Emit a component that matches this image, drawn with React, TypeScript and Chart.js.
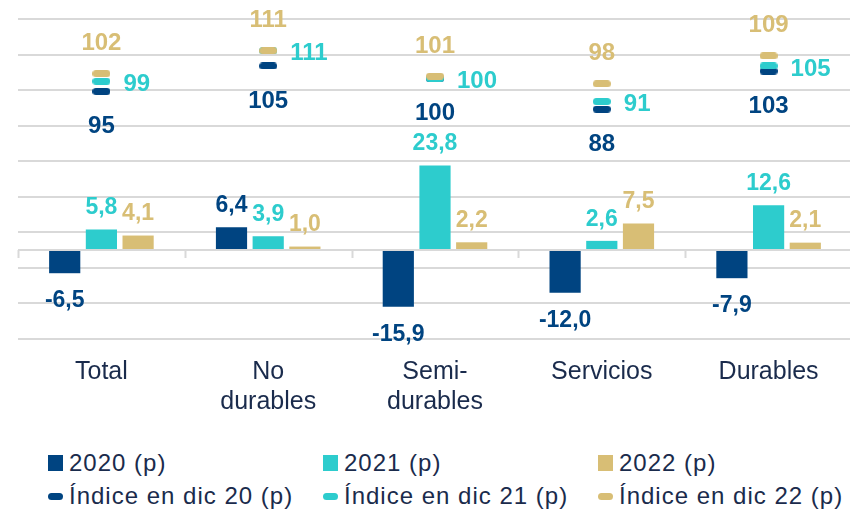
import React, { useEffect, useRef } from 'react';
import { Chart, registerables } from 'chart.js';

Chart.register(...registerables);

// ---- data ----
const categories: string[][] = [['Total'], ['No', 'durables'], ['Semi-', 'durables'], ['Servicios'], ['Durables']];
const var2020 = [-6.5, 6.4, -15.9, -12.0, -7.9];
const var2021 = [5.8, 3.9, 23.8, 2.6, 12.6];
const var2022 = [4.1, 1.0, 2.2, 7.5, 2.1];
const idx2020 = [95, 105, 100, 88, 103];
const idx2021 = [99, 111, 100, 91, 105];
const idx2022 = [102, 111, 101, 98, 109];
const barTicks = [-25, -15, -5, 5, 15, 25, 35, 45, 55, 65];
const barNames = ['2020 (p)', '2021 (p)', '2022 (p)'];
const indexNames = ['Índice en dic 20 (p)', 'Índice en dic 21 (p)', 'Índice en dic 22 (p)'];

// ---- styles ----
const NAVY = '#004481';
const TEAL = '#2DCCCD';
const GOLD = '#D8BE75';
const TEXT = '#1A2B4C';
const GRID = '#D9D9D9';
const FAMILY = "'Liberation Sans', Arial, sans-serif";

function makeMarker(color: string): HTMLCanvasElement {
  const c = document.createElement('canvas');
  c.width = 18;
  c.height = 7;
  const g = c.getContext('2d')!;
  g.fillStyle = color;
  g.beginPath();
  const r = 3.5;
  g.moveTo(r, 0);
  g.lineTo(18 - r, 0);
  g.arc(18 - r, r, r, -Math.PI / 2, Math.PI / 2);
  g.lineTo(r, 7);
  g.arc(r, r, r, Math.PI / 2, (3 * Math.PI) / 2);
  g.closePath();
  g.fill();
  return c;
}

function drawText(ctx: CanvasRenderingContext2D, text: string, x: number, cy: number, size: number, color: string, align: CanvasTextAlign) {
  ctx.save();
  ctx.font = `bold ${size}px ${FAMILY}`;
  ctx.fillStyle = color;
  ctx.textAlign = align;
  ctx.textBaseline = 'alphabetic';
  ctx.fillText(text, x, cy + size * 0.358);
  ctx.restore();
}

const labelPlugin = {
  id: 'valueLabels',
  afterDatasetsDraw(chart: any) {
    const ctx: CanvasRenderingContext2D = chart.ctx;
    const xs = chart.scales.x;
    const ys = chart.scales.y;
    // zero axis line with category tick marks
    const y0 = ys.getPixelForValue(0);
    ctx.save();
    ctx.strokeStyle = GRID;
    ctx.lineWidth = 2;
    ctx.beginPath();
    ctx.moveTo(xs.left, y0);
    ctx.lineTo(xs.right, y0);
    const n = chart.data.labels.length;
    const w = (xs.right - xs.left) / n;
    for (let k = 0; k <= n; k++) {
      const px = Math.round(xs.left + k * w) + 0.5;
      ctx.moveTo(px, y0);
      ctx.lineTo(px, y0 + 8);
    }
    ctx.stroke();
    ctx.restore();

    chart.data.datasets.forEach((ds: any, i: number) => {
      const meta = chart.getDatasetMeta(i);
      meta.data.forEach((el: any, j: number) => {
        const v = ds.data[j];
        if (ds.lbl === 'bar') {
          const t = v.toFixed(1).replace('.', ',');
          const cy = v >= 0 ? el.y - 23.5 : el.y + 26;
          drawText(ctx, t, el.x, cy, 23, ds.backgroundColor, 'center');
        } else if (ds.lbl === 'below') {
          drawText(ctx, String(v), el.x, el.y + 33, 24, ds.txtColor, 'center');
        } else if (ds.lbl === 'right') {
          drawText(ctx, String(v), el.x + 22, el.y + 1, 24, ds.txtColor, 'left');
        } else if (ds.lbl === 'above') {
          drawText(ctx, String(v), el.x, el.y - 32, 24, ds.txtColor, 'center');
        }
      });
    });
  },
};

export default function App() {
  const ref = useRef<HTMLCanvasElement | null>(null);

  useEffect(() => {
    if (!ref.current) return;
    const barCommon = { type: 'bar', yAxisID: 'y', categoryPercentage: 0.66, barPercentage: 0.85, borderWidth: 0, lbl: 'bar' };
    const pointCommon = { type: 'line', yAxisID: 'y1', showLine: false, pointRadius: 9, pointHoverRadius: 9 };
    const chart = new Chart(ref.current, {
      type: 'bar',
      data: {
        labels: categories as any,
        datasets: [
          { ...pointCommon, label: indexNames[2], data: idx2022, pointStyle: makeMarker(GOLD), order: 1, lbl: 'above', txtColor: GOLD },
          { ...pointCommon, label: indexNames[1], data: idx2021, pointStyle: makeMarker(TEAL), order: 2, lbl: 'right', txtColor: TEAL },
          { ...pointCommon, label: indexNames[0], data: idx2020, pointStyle: makeMarker(NAVY), order: 3, lbl: 'below', txtColor: NAVY },
          { ...barCommon, label: barNames[0], data: var2020, backgroundColor: NAVY, order: 4 },
          { ...barCommon, label: barNames[1], data: var2021, backgroundColor: TEAL, order: 5 },
          { ...barCommon, label: barNames[2], data: var2022, backgroundColor: GOLD, order: 6 },
        ] as any,
      },
      options: {
        animation: false,
        responsive: false,
        layout: { padding: { top: 19, left: 18, right: 3, bottom: 0 } },
        plugins: { legend: { display: false }, tooltip: { enabled: false } },
        events: [],
        scales: {
          x: {
            grid: { display: false, drawTicks: false },
            border: { display: false },
            ticks: {
              autoSkip: false,
              maxRotation: 0,
              padding: 18,
              color: TEXT,
              font: { family: FAMILY, size: 25, lineHeight: 1.2 },
            },
            afterFit: (s: any) => {
              s.height = 91;
              s.paddingLeft = 0;
              s.paddingRight = 0;
            },
          },
          y: {
            position: 'left',
            min: -25,
            max: 65,
            ticks: { display: false },
            border: { display: false },
            grid: { color: GRID, lineWidth: 2, drawTicks: false },
            afterBuildTicks: (s: any) => {
              s.ticks = barTicks.map((v) => ({ value: v }));
            },
            afterFit: (s: any) => {
              s.width = 0;
              s.paddingTop = 0;
              s.paddingBottom = 0;
            },
          },
          y1: {
            display: false,
            position: 'right',
            min: -2.5,
            max: 123.5,
          },
        },
      } as any,
      plugins: [labelPlugin],
    });
    return () => chart.destroy();
  }, []);

  const cols = [48, 323, 598];
  const colors = [NAVY, TEAL, GOLD];
  const itemStyle = (left: number, cy: number): React.CSSProperties => ({
    position: 'absolute',
    left,
    top: cy - 15,
    height: 30,
    display: 'flex',
    alignItems: 'center',
    whiteSpace: 'nowrap',
  });
  const textStyle: React.CSSProperties = {
    marginLeft: 6,
    fontSize: 24,
    letterSpacing: '1px',
    lineHeight: '30px',
    color: TEXT,
    fontFamily: FAMILY,
  };

  return (
    <div style={{ position: 'absolute', left: 0, top: 0, width: 850, height: 512, background: '#fff', overflow: 'hidden' }}>
      <canvas ref={ref} width={862} height={430} style={{ position: 'absolute', left: 0, top: 0, width: 862, height: 430 }} />
      {barNames.map((name, i) => (
        <div key={'b' + i} style={itemStyle(cols[i], 463)}>
          <span style={{ display: 'inline-block', width: 15, height: 16, background: colors[i] }} />
          <span style={textStyle}>{name}</span>
        </div>
      ))}
      {indexNames.map((name, i) => (
        <div key={'i' + i} style={itemStyle(cols[i], 496)}>
          <span style={{ display: 'inline-block', width: 15, height: 7, borderRadius: 3.5, background: colors[i] }} />
          <span style={textStyle}>{name}</span>
        </div>
      ))}
    </div>
  );
}
